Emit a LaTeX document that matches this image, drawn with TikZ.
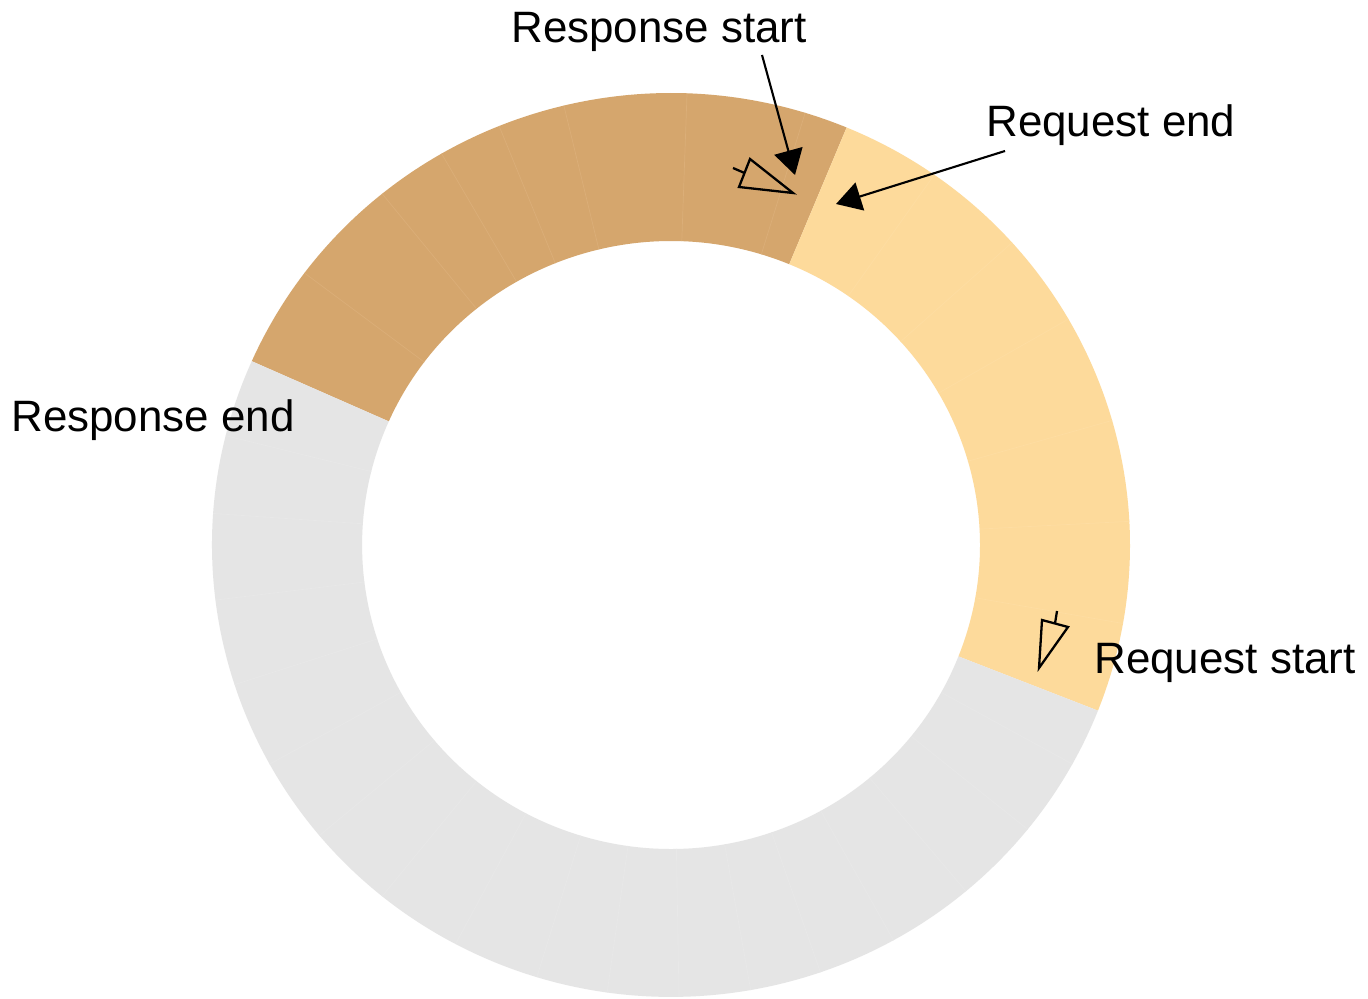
\documentclass[tikz,border=0pt]{standalone}
\usepackage{fontspec}
\setmainfont{Liberation Sans}
\usetikzlibrary{arrows.meta,calc}
\definecolor{brownseg}{HTML}{D5A66D}
\definecolor{brownline}{HTML}{DBAE78}
\definecolor{yellowseg}{HTML}{FDDA9B}
\definecolor{yellowline}{HTML}{FEDDA2}
\definecolor{grayseg}{HTML}{E5E5E5}
\definecolor{grayline}{HTML}{E8E8E8}
\newcommand{\ringsector}[3]{%
  \fill[#1] (#2:9.18cm and 9.04cm)
    arc[start angle=#2, end angle=#3, x radius=9.18cm, y radius=9.04cm]
    -- (#3:6.18cm and 6.08cm)
    arc[start angle=#3, end angle=#2, x radius=6.18cm, y radius=6.08cm] -- cycle;}
\newcommand{\ringdiv}[2]{%
  \draw[#1, line width=0.4pt] (#2:6.18cm and 6.08cm) -- (#2:9.18cm and 9.04cm);}
\tikzset{
  label/.style={font=\fontsize{25}{30}\selectfont, inner sep=0pt, anchor=base west},
  pointer/.style={line width=1.2pt, -{Triangle[length=0.5cm, width=0.58cm]}},
  marker/.style={line width=1.3pt, line join=miter}
}
\begin{document}
\begin{tikzpicture}[x=0.02cm, y=0.02cm]
\useasboundingbox (0,0) rectangle (1368,-999);
\fill[white] (0,0) rectangle (1368,-999);
\coordinate (C) at (671,-545);
\begin{scope}[shift={(C)}]
  \ringsector{brownseg}{67.5}{156}
  \ringsector{yellowseg}{-21.5}{67.5}
  \ringsector{grayseg}{156}{338.5}
  % faint slice divisions
  \foreach \a in {73,88,103.5,112,120,129,143} {\ringdiv{brownline}{\a}}
  \foreach \a in {55,42,30,16,3,-10} {\ringdiv{yellowline}{\a}}
  \foreach \a in {166,176,187,198,209,220,231,242,253,262,271,280,289,299,310,321,331} {\ringdiv{grayline}{\a}}
\end{scope}
% markers
\draw[marker] (750,-159) -- (739,-187) -- (793,-193) -- cycle;
\draw[marker] (744.5,-173) -- (733,-168);
\draw[marker] (1042,-620) -- (1068,-627) -- (1039,-668) -- cycle;
\draw[marker] (1055,-623.5) -- (1057,-611);
% labels
\node[label] (rs) at (511,-43) {Response start};
\node[label] (re) at (986,-137) {Request end};
\node[label] (rse) at (11,-432) {Response end};
\node[label] (rqs) at (1094,-673) {Request start};
% connectors
\coordinate (rsfrom) at (762,-55);
\coordinate (rsto) at (795,-175);
\coordinate (refrom) at (1005,-151);
\coordinate (reto) at (836,-204);
\draw[pointer] (rsfrom) -- (rsto);
\draw[pointer] (refrom) -- (reto);
\end{tikzpicture}
\end{document}
